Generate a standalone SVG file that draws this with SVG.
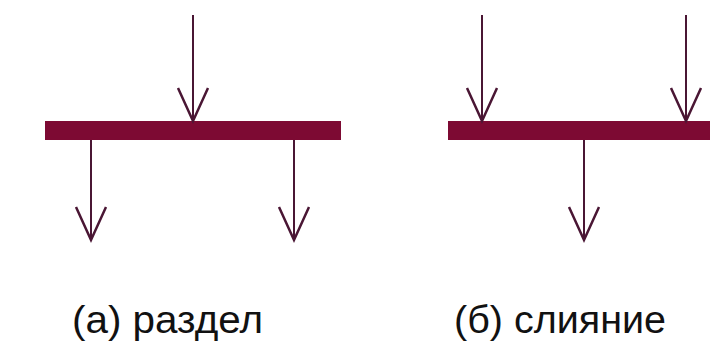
<svg xmlns="http://www.w3.org/2000/svg" width="710" height="342" viewBox="0 0 710 342">
<style>
.bar{fill:#7d0a33}
.ln{stroke:#4a1634;stroke-width:2;fill:none}
.lbl{font-family:"Liberation Sans",Arial,sans-serif;font-size:38px;fill:#111}
</style>
<defs>
<marker id="v" viewBox="-36 -18 40 36" refX="0" refY="0" markerUnits="userSpaceOnUse" markerWidth="40" markerHeight="36" orient="auto">
<path d="M-33,-15 L0,0 L-33,15" fill="none" stroke="#4a1634" stroke-width="2.5"/>
</marker>
</defs>
<rect width="710" height="342" fill="#fff"/>
<g id="fork-bar"><rect class="bar" x="45" y="121" width="296" height="19"/></g>
<g id="join-bar"><rect class="bar" x="448" y="121" width="262" height="19"/></g>
<g id="connectors">
<line class="ln" x1="193" y1="15" x2="193" y2="121" marker-end="url(#v)"/>
<line class="ln" x1="91" y1="140" x2="91" y2="240" marker-end="url(#v)"/>
<line class="ln" x1="294" y1="140" x2="294" y2="240" marker-end="url(#v)"/>
<line class="ln" x1="482" y1="15" x2="482" y2="121" marker-end="url(#v)"/>
<line class="ln" x1="686" y1="15" x2="686" y2="121" marker-end="url(#v)"/>
<line class="ln" x1="584" y1="140" x2="584" y2="240" marker-end="url(#v)"/>
</g>
<g id="label-a"><text class="lbl" x="72" y="333" textLength="191" lengthAdjust="spacingAndGlyphs">(а) раздел</text></g>
<g id="label-b"><text class="lbl" x="454" y="333" textLength="212" lengthAdjust="spacingAndGlyphs">(б) слияние</text></g>
</svg>
